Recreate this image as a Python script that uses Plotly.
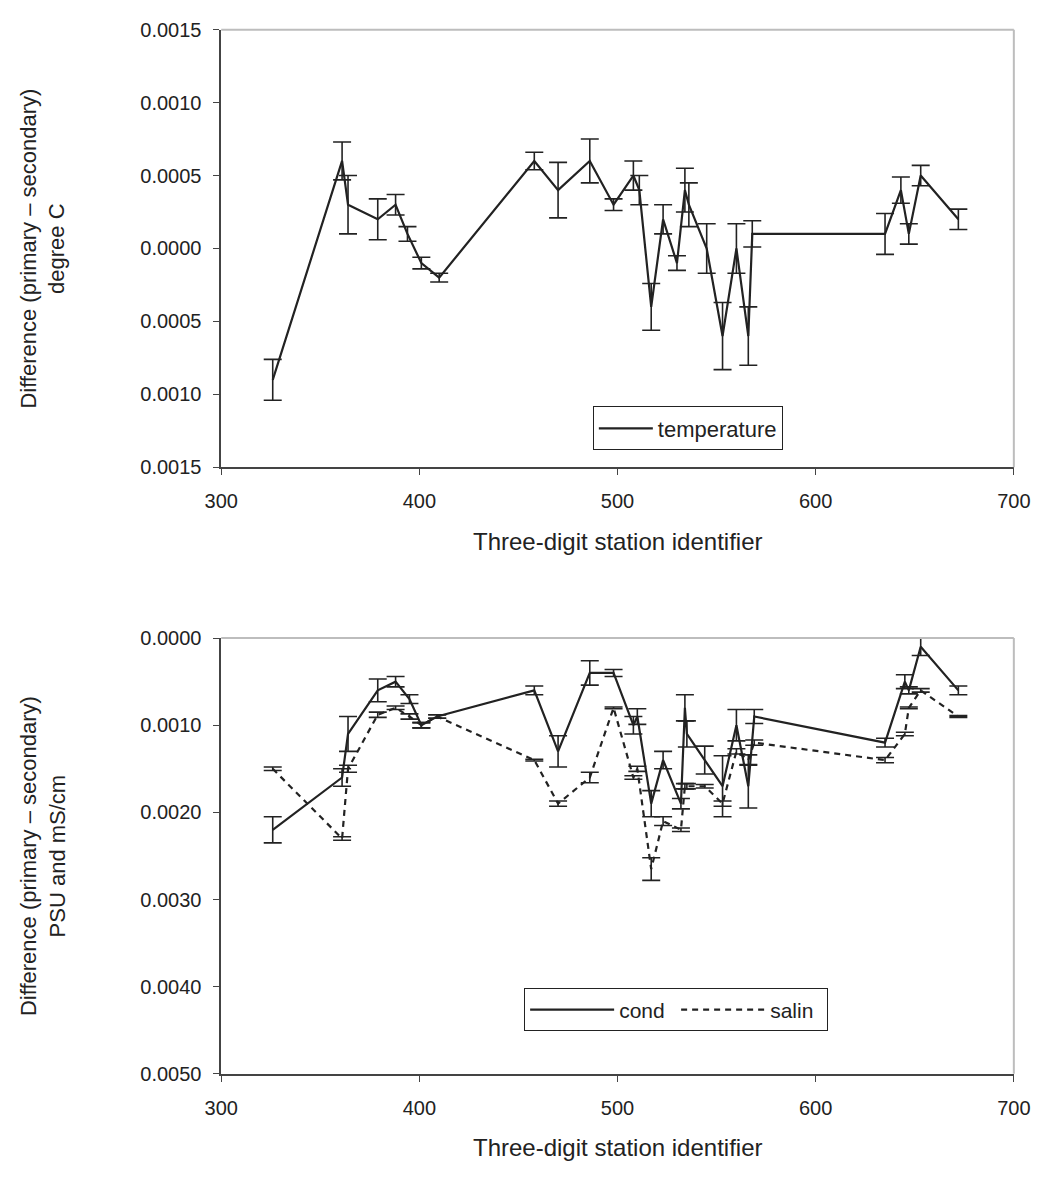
import plotly.graph_objects as go

# ---------------- data ----------------
# Top chart: temperature difference (degree C)
stations_t = [326, 361, 364, 379, 388, 394, 401, 410, 458, 470, 486, 498, 508, 511,
              517, 523, 530, 534, 536, 545, 553, 560, 566, 568, 635, 643, 647, 653, 672]
temp = [-0.0009, 0.0006, 0.0003, 0.0002, 0.0003, 0.0001, -0.0001, -0.0002, 0.0006, 0.0004,
        0.0006, 0.0003, 0.0005, 0.0004, -0.0004, 0.0002, -0.0001, 0.0004, 0.0003, 0.0000,
        -0.0006, 0.0000, -0.0006, 0.0001, 0.0001, 0.0004, 0.0001, 0.0005, 0.0002]
temp_err = [0.00014, 0.00013, 0.00020, 0.00014, 0.00007, 0.00005, 0.00004, 0.00003, 0.00006,
            0.00019, 0.00015, 0.00004, 0.00010, 0.00010, 0.00016, 0.00010, 0.00005, 0.00015,
            0.00015, 0.00017, 0.00023, 0.00017, 0.00020, 0.00009, 0.00014, 0.00009, 0.00007,
            0.00007, 0.00007]

# Bottom chart: conductivity and salinity differences (plotted as negative, labelled by magnitude)
stations_cs = [326, 361, 364, 379, 388, 395, 401, 409, 458, 470, 486, 498, 508, 510,
               517, 523, 532, 534, 535, 544, 553, 560, 566, 569, 635, 645, 647, 653, 672]
cond = [-0.0022, -0.0016, -0.0011, -0.0006, -0.0005, -0.0007, -0.0010, -0.0009, -0.0006,
        -0.0013, -0.0004, -0.0004, -0.0010, -0.0009, -0.0019, -0.0014, -0.0019, -0.0008,
        -0.0011, -0.0014, -0.0017, -0.0010, -0.0017, -0.0009, -0.0012, -0.0005, -0.0006,
        -0.0001, -0.0006]
cond_err = [0.00015, 0.00010, 0.00020, 0.00013, 0.00006, 0.00005, 0.00003, 0.00002, 0.00005,
            0.00018, 0.00014, 0.00004, 0.00010, 0.00009, 0.00015, 0.00010, 0.00006, 0.00015,
            0.00015, 0.00016, 0.00035, 0.00018, 0.00025, 0.00008, 0.00005, 0.00008, 0.00004,
            0.00010, 0.00005]
salin = [-0.0015, -0.0023, -0.0015, -0.00088, -0.0008, -0.0009, -0.0010, -0.0009, -0.0014,
         -0.0019, -0.0016, -0.0008, -0.0016, -0.0015, -0.00265, -0.0021, -0.0022, -0.0017,
         -0.0017, -0.0017, -0.0019, -0.0013, -0.0014, -0.0012, -0.0014, -0.0011, -0.0008,
         -0.0006, -0.0009]
salin_err = [0.00002, 0.00002, 0.00004, 0.00003, 0.00002, 0.00003, 0.00003, 0.00002, 0.00001,
             0.00003, 0.00006, 0.00001, 0.00002, 0.00003, 0.00013, 0.00005, 0.00002, 0.00003,
             0.00003, 0.00002, 0.00003, 0.00003, 0.00006, 0.00003, 0.00003, 0.00002, 0.00001,
             0.00002, 0.00001]

x_ticks = [300, 400, 500, 600, 700]
y_ticks_top = [-0.0015, -0.0010, -0.0005, 0.0, 0.0005, 0.0010, 0.0015]
y_ticks_bottom = [-0.0050, -0.0040, -0.0030, -0.0020, -0.0010, 0.0]

x_title = "Three-digit station identifier"
y_title_top = "Difference (primary \u2013 secondary)<br>degree C"
y_title_bottom = "Difference (primary \u2013 secondary)<br>PSU and mS/cm"

# ---------------- style ----------------
FONT = "Liberation Sans, Arial, sans-serif"
INK = "#222222"
AXIS = "#444444"
FRAME = "#bdbdbd"
W, H = 1056, 1180

x_dom = [211 / W, 1030 / W]
top_dom = [1 - 465 / H, 1 - 19 / H]
bot_dom = [1 - 1083 / H, 1 - 639 / H]


def fmt(v):
    return f"{abs(v):.4f}"


fig = go.Figure()

err_style = dict(type="data", visible=True, thickness=1.6, width=9, color=INK)

fig.add_trace(go.Scatter(
    x=stations_t, y=temp, mode="lines", name="temperature",
    line=dict(color=INK, width=2.2),
    error_y=dict(array=temp_err, **err_style),
    xaxis="x", yaxis="y", legend="legend",
))
fig.add_trace(go.Scatter(
    x=stations_cs, y=cond, mode="lines", name="cond",
    line=dict(color=INK, width=2.2),
    error_y=dict(array=cond_err, **err_style),
    xaxis="x2", yaxis="y2", legend="legend2",
))
fig.add_trace(go.Scatter(
    x=stations_cs, y=salin, mode="lines", name="salin",
    line=dict(color=INK, width=2.2, dash="6px,5px"),
    error_y=dict(array=salin_err, **err_style),
    xaxis="x2", yaxis="y2", legend="legend2",
))

TICKFONT = dict(family=FONT, size=20, color=INK)
xaxis_common = dict(
    range=[300, 700], tickvals=x_ticks, ticktext=[str(v) for v in x_ticks],
    showline=True, linecolor=AXIS, linewidth=1.5, ticks="outside", ticklen=6,
    tickcolor=AXIS, tickwidth=1, showgrid=False, zeroline=False,
    tickfont=TICKFONT, domain=x_dom, ticklabelstandoff=9,
)
yaxis_common = dict(
    showline=True, linecolor=AXIS, linewidth=1.5, ticks="outside", ticklen=6,
    tickcolor=AXIS, tickwidth=1, showgrid=False, zeroline=False,
    tickfont=TICKFONT, ticklabelstandoff=8,
)

fig.update_layout(
    width=W, height=H, autosize=False,
    margin=dict(l=0, r=0, t=0, b=0),
    paper_bgcolor="white", plot_bgcolor="white",
    font=dict(family=FONT, color=INK),
    xaxis=dict(anchor="y", **xaxis_common),
    yaxis=dict(anchor="x", domain=top_dom, range=[-0.0015, 0.0015],
               tickvals=y_ticks_top, ticktext=[fmt(v) for v in y_ticks_top], **yaxis_common),
    xaxis2=dict(anchor="y2", **xaxis_common),
    yaxis2=dict(anchor="x2", domain=bot_dom, range=[-0.0050, 0.0],
                tickvals=y_ticks_bottom, ticktext=[fmt(v) for v in y_ticks_bottom], **yaxis_common),
    legend=dict(x=595 / W, y=1 - 403 / H, xanchor="left", yanchor="top",
                bgcolor="white", bordercolor=INK, borderwidth=1,
                font=dict(family=FONT, size=22, color=INK), orientation="v",
                itemwidth=54),
    legend2=dict(x=524 / W, y=1 - 996 / H, xanchor="left", yanchor="top",
                 bgcolor="white", bordercolor=INK, borderwidth=1,
                 font=dict(family=FONT, size=21, color=INK), orientation="h",
                 itemwidth=84, entrywidth=52),
    showlegend=True,
)

# light top/right frame lines
for xr, yr in (("x domain", "y domain"), ("x2 domain", "y2 domain")):
    fig.add_shape(type="line", xref=xr, yref=yr, x0=0, x1=1, y0=1, y1=1,
                  line=dict(color=FRAME, width=2))
    fig.add_shape(type="line", xref=xr, yref=yr, x0=1, x1=1, y0=0, y1=1,
                  line=dict(color=FRAME, width=2))

# axis titles as annotations
TITLEFONT = dict(family=FONT, size=24, color=INK)
YTITLEFONT = dict(family=FONT, size=22, color=INK)
fig.add_annotation(text=x_title, xref="paper", yref="paper",
                   x=(x_dom[0] + x_dom[1]) / 2, y=1 - 541 / H, showarrow=False,
                   xanchor="center", yanchor="middle", font=TITLEFONT)
fig.add_annotation(text=x_title, xref="paper", yref="paper",
                   x=(x_dom[0] + x_dom[1]) / 2, y=1 - 1158 / H, showarrow=False,
                   xanchor="center", yanchor="middle", font=TITLEFONT)
fig.add_annotation(text=y_title_top, xref="paper", yref="paper",
                   x=27 / W, y=(top_dom[0] + top_dom[1]) / 2, showarrow=False,
                   xanchor="center", yanchor="middle",
                   textangle=-90, font=YTITLEFONT)
fig.add_annotation(text=y_title_bottom, xref="paper", yref="paper",
                   x=27 / W, y=(bot_dom[0] + bot_dom[1]) / 2, showarrow=False,
                   xanchor="center", yanchor="middle",
                   textangle=-90, font=YTITLEFONT)

fig.write_html("out.html")
